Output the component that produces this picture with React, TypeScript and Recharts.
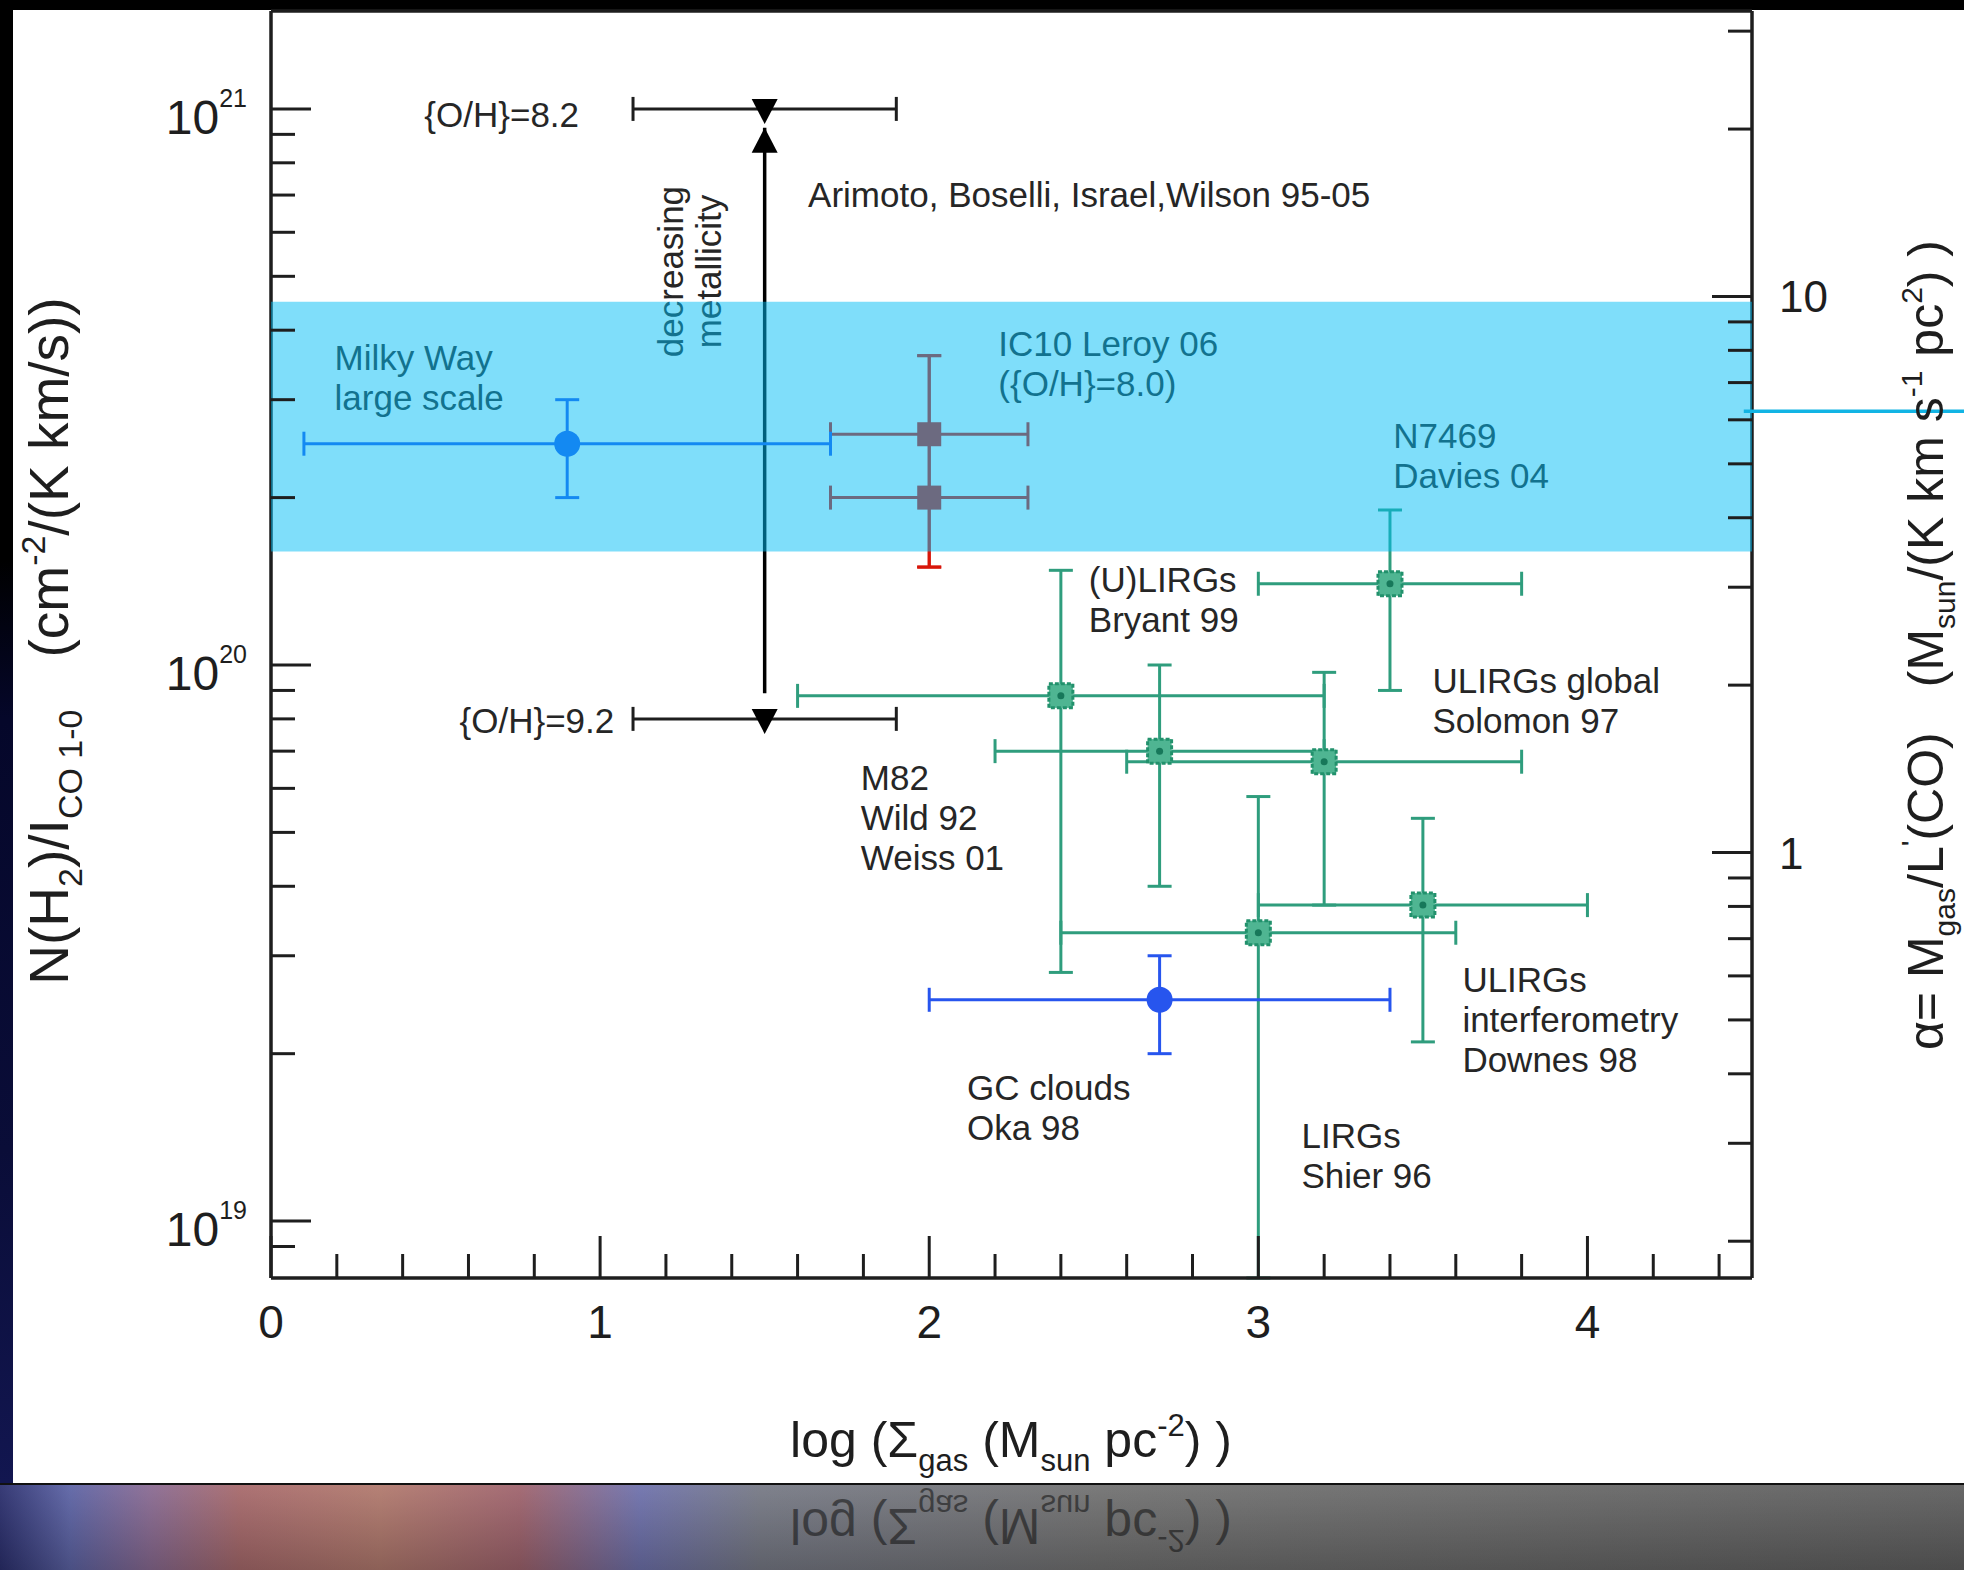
import React from 'react';
import { ScatterChart, Scatter, XAxis, YAxis, ErrorBar, ReferenceArea, ReferenceLine } from 'recharts';

const FONT = "'Liberation Sans', Arial, Helvetica, sans-serif";
const INK = '#1e1e1e';
const GREEN = '#2f9d7d';
const BLUE = '#2755ee';
const RED = '#d8160a';

// axes: x = log Sigma_gas, y = N(H2)/I_CO (log), right axis alpha = y / X_PER_ALPHA
const X_DOMAIN = [0, 4.5];
const Y_DOMAIN = [7.9e18, 1.5e21];
const X_PER_ALPHA = 4.6e19;
const xTicks = [0, 0.2, 0.4, 0.6, 0.8, 1, 1.2, 1.4, 1.6, 1.8, 2, 2.2, 2.4, 2.6, 2.8, 3, 3.2, 3.4, 3.6, 3.8, 4, 4.2, 4.4];
const xTickLabels = [0, 1, 2, 3, 4];
const yTicks = [9e18, 1e19, 2e19, 3e19, 4e19, 5e19, 6e19, 7e19, 8e19, 9e19, 1e20, 2e20, 3e20, 4e20, 5e20, 6e20, 7e20, 8e20, 9e20, 1e21];
const yTickLabels = [1e19, 1e20, 1e21];
const alphaTicks = [0.2, 0.3, 0.4, 0.5, 0.6, 0.7, 0.8, 0.9, 1, 2, 3, 4, 5, 6, 7, 8, 9, 10, 20, 30];
const alphaTickLabels = [1, 10];

// starbursts (green): N7469, (U)LIRGs, M82, ULIRGs global, ULIRGs interf., LIRGs
const greenX = [3.4, 2.4, 2.7, 3.2, 3.5, 3.0];
const greenY = [1.4e20, 8.8e19, 7.0e19, 6.7e19, 3.7e19, 3.3e19];
const greenXLo = [3.0, 1.6, 2.2, 2.6, 3.0, 2.4];
const greenXHi = [3.8, 3.2, 3.2, 3.8, 4.0, 3.6];
const greenYLo = [9.0e19, 2.8e19, 4.0e19, 3.7e19, 2.1e19, 7.9e18];
const greenYHi = [1.9e20, 1.48e20, 1.0e20, 9.7e19, 5.3e19, 5.8e19];

// Milky Way large scale, GC clouds
const blueX = [0.9, 2.7];
const blueY = [2.5e20, 2.5e19];
const blueXLo = [0.1, 2.0];
const blueXHi = [1.7, 3.4];
const blueYLo = [2.0e20, 2.0e19];
const blueYHi = [3.0e20, 3.0e19];

// IC10 Leroy 06
const ic10X = [2.0, 2.0];
const ic10Y = [2.6e20, 2.0e20];
const ic10XLo = [1.7, 1.7];
const ic10XHi = [2.3, 2.3];
const ic10YLo = [1.5e20, 1.5e20];
const ic10YHi = [3.6e20, 3.6e20];

// metallicity markers {O/H}=8.2 and 9.2
const metalX = [1.5, 1.5];
const metalY = [1.0e21, 8.0e19];
const metalXLo = [1.1, 1.1];
const metalXHi = [1.9, 1.9];

const arrowX = 1.5;
const arrowFrom = 8.9e19;
const arrowTo = 9.25e20;

const bandLo = 1.6e20;
const bandHi = 4.5e20;
const pointerY = 2.86e20;

const labelLines = [
  ['{O/H}=8.2'],
  ['{O/H}=9.2'],
  ['Arimoto, Boselli, Israel,Wilson 95-05'],
  ['Milky Way', 'large scale'],
  ['IC10 Leroy 06', '({O/H}=8.0)'],
  ['N7469', 'Davies 04'],
  ['(U)LIRGs', 'Bryant 99'],
  ['ULIRGs global', 'Solomon 97'],
  ['M82', 'Wild 92', 'Weiss 01'],
  ['ULIRGs', 'interferometry', 'Downes 98'],
  ['GC clouds', 'Oka 98'],
  ['LIRGs', 'Shier 96'],
  ['decreasing', 'metallicity'],
];
const labelX = [0.936, 1.043, 1.632, 0.193, 2.21, 3.41, 2.485, 3.529, 1.792, 3.62, 2.115, 3.131, 1.27];
const labelY = [9.8e20, 7.96e19, 7.03e20, 3.58e20, 3.79e20, 2.59e20, 1.43e20, 9.4e19, 6.3e19, 2.72e19, 1.74e19, 1.43e19, 5.1e20];
const labelAnchor = ['end', 'end', 'start', 'start', 'start', 'start', 'start', 'start', 'start', 'start', 'start', 'start', 'middle'];
const labelRotated = [false, false, false, false, false, false, false, false, false, false, false, false, true];

const rows = (xs: number[], ys: number[], xlo: number[], xhi: number[], ylo?: number[], yhi?: number[]) =>
  xs.map((x, i) => ({
    x,
    y: ys[i],
    ex: [x - xlo[i], xhi[i] - x],
    ey: ylo && yhi ? [ys[i] - ylo[i], yhi[i] - ys[i]] : [0, 0],
  }));

const greenData = rows(greenX, greenY, greenXLo, greenXHi, greenYLo, greenYHi);
const blueData = rows(blueX, blueY, blueXLo, blueXHi, blueYLo, blueYHi);
const ic10Data = rows(ic10X, ic10Y, ic10XLo, ic10XHi, ic10YLo, ic10YHi);
const metalData = rows(metalX, metalY, metalXLo, metalXHi);
const labelData = labelLines.map((lines, i) => ({
  x: labelX[i], y: labelY[i], lines, anchor: labelAnchor[i], rotate: labelRotated[i],
}));

function BottomTick(p: any) {
  const v = p.payload.value;
  const major = xTickLabels.includes(v);
  return (
    <g>
      <line x1={p.x} x2={p.x} y1={p.y} y2={p.y - (major ? 42 : 24)} stroke={INK} strokeWidth={3} />
      {major && (
        <text x={p.x} y={p.y + 60} textAnchor="middle" fontSize={46} fontFamily={FONT} fill={INK}>{v}</text>
      )}
    </g>
  );
}

function TopTick(p: any) {
  const major = xTickLabels.includes(p.payload.value);
  return <line x1={p.x} x2={p.x} y1={p.y} y2={p.y + (major ? 42 : 24)} stroke={INK} strokeWidth={3} />;
}

function LeftTick(p: any) {
  const v = p.payload.value;
  const major = yTickLabels.includes(v);
  return (
    <g>
      <line x1={p.x} x2={p.x + (major ? 40 : 24)} y1={p.y} y2={p.y} stroke={INK} strokeWidth={3} />
      {major && (
        <text x={p.x - 24} y={p.y + 25} textAnchor="end" fontSize={48} fontFamily={FONT} fill={INK}>
          10<tspan dy={-27} fontSize={25}>{Math.round(Math.log10(v))}</tspan>
        </text>
      )}
    </g>
  );
}

function RightTick(p: any) {
  const v = p.payload.value;
  const major = alphaTickLabels.includes(v);
  return (
    <g>
      <line x1={p.x} x2={p.x - (major ? 40 : 24)} y1={p.y} y2={p.y} stroke={INK} strokeWidth={3} />
      {major && (
        <text x={p.x + 27} y={p.y + 16} textAnchor="start" fontSize={44} fontFamily={FONT} fill={INK}>{v}</text>
      )}
    </g>
  );
}

function GreenBox(p: any) {
  const { cx, cy } = p;
  return (
    <g>
      <rect x={cx - 12} y={cy - 12} width={24} height={24} fill="#4fb592" stroke="#22916c" strokeWidth={3} strokeDasharray="4 2" />
      <circle cx={cx} cy={cy} r={3.5} fill="#17785a" />
    </g>
  );
}

function RedBox(p: any) {
  return <rect x={p.cx - 12} y={p.cy - 12} width={24} height={24} fill={RED} />;
}

function BlueDot(p: any) {
  return <circle cx={p.cx} cy={p.cy} r={13} fill={BLUE} />;
}

function DownTriangle(p: any) {
  const { cx, cy } = p;
  return <path d={`M${cx - 13},${cy - 10} L${cx + 13},${cy - 10} L${cx},${cy + 15} Z`} fill="#000" />;
}

function ArrowHead(p: any) {
  const { cx, cy } = p;
  return <path d={`M${cx},${cy} L${cx + 13},${cy + 25} L${cx - 13},${cy + 25} Z`} fill="#000" />;
}

function Annotation(p: any) {
  const { cx, cy, payload } = p;
  const lines: string[] = payload.lines;
  const lh = payload.rotate ? 38 : 40;
  const start = payload.rotate ? -((lines.length - 1) * lh) / 2 : 0;
  return (
    <text
      transform={payload.rotate ? `rotate(-90 ${cx} ${cy})` : undefined}
      fontSize={35}
      fontFamily={FONT}
      fill="#262626"
      textAnchor={payload.anchor}
      dominantBaseline="central"
    >
      {lines.map((l, i) => (
        <tspan key={i} x={cx} y={cy + start + i * lh}>{l}</tspan>
      ))}
    </text>
  );
}

function Chart() {
  return (
    <ScatterChart width={1964} height={1570} margin={{ top: 10, right: 211, bottom: 291, left: 270 }}>
      <XAxis
        dataKey="x" type="number" domain={X_DOMAIN} allowDataOverflow ticks={xTicks} interval={0}
        height={1} tickSize={0} tickMargin={0} tickLine={false} tick={BottomTick}
        axisLine={{ stroke: INK, strokeWidth: 3.5 }}
      />
      <XAxis
        xAxisId="top" orientation="top" type="number" domain={X_DOMAIN} allowDataOverflow ticks={xTicks} interval={0}
        height={1} tickSize={0} tickMargin={0} tickLine={false} tick={TopTick}
        axisLine={{ stroke: INK, strokeWidth: 3.5 }}
      />
      <YAxis
        yAxisId="n" dataKey="y" type="number" scale="log" domain={Y_DOMAIN} allowDataOverflow ticks={yTicks} interval={0}
        width={1} tickSize={0} tickMargin={0} tickLine={false} tick={LeftTick}
        axisLine={{ stroke: INK, strokeWidth: 3.5 }}
      />
      <YAxis
        yAxisId="alpha" orientation="right" type="number" scale="log"
        domain={[Y_DOMAIN[0] / X_PER_ALPHA, Y_DOMAIN[1] / X_PER_ALPHA]} allowDataOverflow ticks={alphaTicks} interval={0}
        width={1} tickSize={0} tickMargin={0} tickLine={false} tick={RightTick}
        axisLine={{ stroke: INK, strokeWidth: 3.5 }}
      />

      <Scatter yAxisId="n" data={labelData} shape={Annotation} isAnimationActive={false} />

      <ReferenceLine
        yAxisId="n"
        segment={[{ x: arrowX, y: arrowFrom }, { x: arrowX, y: arrowTo }]}
        stroke="#000" strokeWidth={3.5}
      />
      <Scatter yAxisId="n" data={[{ x: arrowX, y: arrowTo }]} shape={ArrowHead} isAnimationActive={false} />

      <Scatter yAxisId="n" data={metalData} shape={DownTriangle} isAnimationActive={false}>
        <ErrorBar dataKey="ex" direction="x" width={12} stroke={INK} strokeWidth={3} />
      </Scatter>

      <Scatter yAxisId="n" data={greenData} shape={GreenBox} isAnimationActive={false}>
        <ErrorBar dataKey="ex" direction="x" width={12} stroke={GREEN} strokeWidth={3} />
        <ErrorBar dataKey="ey" direction="y" width={12} stroke={GREEN} strokeWidth={3} />
      </Scatter>

      <Scatter yAxisId="n" data={ic10Data} shape={RedBox} isAnimationActive={false}>
        <ErrorBar dataKey="ex" direction="x" width={12} stroke={RED} strokeWidth={3} />
        <ErrorBar dataKey="ey" direction="y" width={12} stroke={RED} strokeWidth={3} />
      </Scatter>

      <Scatter yAxisId="n" data={blueData} shape={BlueDot} isAnimationActive={false}>
        <ErrorBar dataKey="ex" direction="x" width={12} stroke={BLUE} strokeWidth={3} />
        <ErrorBar dataKey="ey" direction="y" width={12} stroke={BLUE} strokeWidth={3} />
      </Scatter>

      <ReferenceArea
        yAxisId="n" x1={X_DOMAIN[0]} x2={X_DOMAIN[1]} y1={bandLo} y2={bandHi}
        fill="#00bef5" fillOpacity={0.5} stroke="none" ifOverflow="visible" zIndex={1000}
      />
      <ReferenceLine
        yAxisId="n"
        segment={[{ x: 4.475, y: pointerY }, { x: 5.2, y: pointerY }]}
        stroke="#12b4e4" strokeWidth={3.5} ifOverflow="visible" zIndex={1100}
      />
    </ScatterChart>
  );
}

function Titles() {
  const title = (
    <>
      log (Σ<tspan dy={14} fontSize={31}>gas</tspan>
      <tspan dy={-14}> (M</tspan><tspan dy={14} fontSize={31}>sun</tspan>
      <tspan dy={-14}> pc</tspan><tspan dy={-21} fontSize={31}>-2</tspan>
      <tspan dy={21}>) )</tspan>
    </>
  );
  return (
    <svg width={1964} height={1570} style={{ position: 'absolute', left: 0, top: 0, pointerEvents: 'none' }}>
      <text x={1011} y={1457} textAnchor="middle" fontSize={50} fontFamily={FONT} fill={INK}>{title}</text>
      <g transform="translate(0 2966) scale(1 -1)" opacity={0.55}>
        <text x={1011} y={1457} textAnchor="middle" fontSize={50} fontFamily={FONT} fill="#111">{title}</text>
      </g>
      <text transform="translate(50 641) rotate(-90)" x={0} y={18} textAnchor="middle" fontSize={55} fontFamily={FONT} fill={INK}>
        N(H<tspan dy={14} fontSize={34}>2</tspan>
        <tspan dy={-14}>)/I</tspan><tspan dy={14} fontSize={34}>CO 1-0</tspan>
        <tspan dy={-14} dx={52}>(cm</tspan><tspan dy={-23} fontSize={34}>-2</tspan>
        <tspan dy={23}>/(K km/s))</tspan>
      </text>
      <text transform="translate(1926 645) rotate(-90)" x={0} y={17} textAnchor="middle" fontSize={50} fontFamily={FONT} fill={INK}>
        α= M<tspan dy={12} fontSize={30}>gas</tspan>
        <tspan dy={-12}>/L</tspan><tspan dy={-21} fontSize={30}>'</tspan>
        <tspan dy={21}>(CO)</tspan>
        <tspan dx={45}>(M</tspan><tspan dy={12} fontSize={30}>sun</tspan>
        <tspan dy={-12}>/(K km s</tspan><tspan dy={-21} fontSize={30}>-1</tspan>
        <tspan dy={21}> pc</tspan><tspan dy={-21} fontSize={30}>2</tspan>
        <tspan dy={21}>) )</tspan>
      </text>
    </svg>
  );
}

export default function App() {
  return (
    <div style={{ position: 'absolute', left: 0, top: 0, width: 1964, height: 1570, background: '#000', overflow: 'hidden', fontFamily: FONT }}>
      <div style={{ position: 'absolute', left: 0, top: 0, width: 13, height: 1570, background: 'linear-gradient(to bottom, #000 0px, #000 560px, #05072a 720px, #0a0d38 1150px, #121650 1483px)' }} />
      <div style={{ position: 'absolute', left: 13, top: 10, width: 1951, height: 1473, background: '#fff' }} />
      <div
        style={{
          position: 'absolute', left: 0, top: 1483, width: 1964, height: 87,
          background:
            'linear-gradient(to bottom, rgba(255,255,255,0.06), rgba(0,0,0,0.22)), linear-gradient(to right, #2b2f6e 0px, #5d64a6 70px, #8a6b93 150px, #a86a6c 240px, #b27a6e 380px, #a0646e 520px, #6f72ad 640px, #777a86 760px, #727272 1100px, #5f5f5f 1964px)',
          borderTop: '2px solid #111',
        }}
      />
      <div style={{ position: 'absolute', left: 0, top: 0 }}>
        <Chart />
      </div>
      <Titles />
    </div>
  );
}
